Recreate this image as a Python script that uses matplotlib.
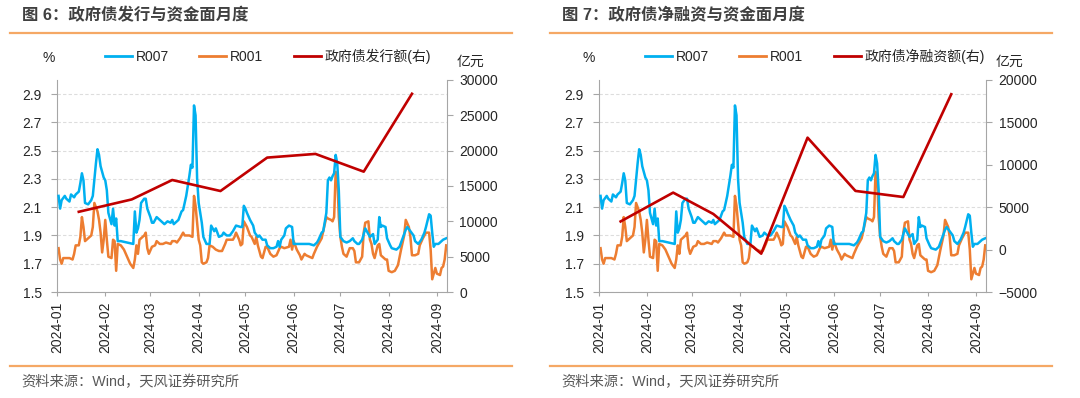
import matplotlib
matplotlib.use('Agg')
import matplotlib.pyplot as plt
import matplotlib.dates as mdates
from matplotlib.lines import Line2D
import pandas as pd
import numpy as np

plt.rcParams['font.family'] = ['Liberation Sans', 'Noto Sans CJK SC']
plt.rcParams['axes.unicode_minus'] = True

# ---------------- data ----------------
r007_dates = ["01-02","01-03","01-04","01-06","01-07","01-09","01-10","01-12","01-13","01-15",
              "01-16","01-17","01-18","01-19","01-21","01-23","01-24","01-26","01-27","01-28",
              "01-29","01-31","02-01","02-02","02-03","02-05","02-06","02-07","02-08","02-09",
              "02-11","02-15","02-19","02-20","02-21","02-22","02-23","02-24","02-26","02-27",
              "02-28","03-01","03-02","03-03","03-05","03-07","03-09","03-10","03-12","03-14",
              "03-15","03-16","03-18","03-19","03-21","03-22","03-24","03-25","03-26","03-27",
              "03-28","03-29","03-30","03-31","04-01","04-03","04-04","04-06","04-08","04-09",
              "04-10","04-11","04-12","04-14","04-16","04-17","04-19","04-21","04-23","04-25",
              "04-28","04-29","04-30","05-01","05-02","05-04","05-06","05-07","05-09","05-10",
              "05-12","05-14","05-15","05-17","05-19","05-21","05-22","05-23","05-24","05-26",
              "05-27","05-29","05-31","06-01","06-03","06-05","06-07","06-09","06-11","06-14",
              "06-16","06-17","06-19","06-20","06-22","06-23","06-24","06-25","06-26","06-27",
              "06-28","06-29","06-30","07-01","07-03","07-05","07-07","07-09","07-10","07-12",
              "07-13","07-15","07-17","07-18","07-20","07-22","07-23","07-25","07-26","07-27",
              "07-28","07-30","07-31","08-02","08-03","08-06","08-08","08-10","08-12","08-13",
              "08-15","08-17","08-18","08-20","08-22","08-24","08-25","08-27","08-28","08-29",
              "08-30","08-31","09-02","09-04","09-05","09-07"]
r007_values = [2.18,2.09,2.15,2.18,2.16,2.14,2.19,2.17,2.19,2.21,
               2.27,2.34,2.29,2.13,2.12,2.15,2.18,2.41,2.51,2.47,
               2.39,2.31,2.29,2.22,2.06,1.98,2.09,1.97,2.02,1.86,
               1.86,1.85,1.84,2.07,1.92,1.95,2.01,2.13,2.16,2.16,
               2.09,2.03,1.99,1.99,2.03,2.01,1.99,1.98,2.00,1.99,
               2.01,1.98,2.00,2.01,2.07,2.08,2.18,2.25,2.32,2.40,
               2.38,2.82,2.75,2.30,2.13,1.99,1.89,1.84,1.84,1.97,
               1.95,1.93,1.95,1.89,1.90,1.92,1.90,1.90,1.93,1.97,
               1.96,1.96,2.11,2.09,2.06,2.01,1.97,1.92,1.89,1.90,
               1.87,1.87,1.83,1.81,1.81,1.82,1.86,1.82,1.87,1.90,
               1.95,1.97,1.96,1.84,1.84,1.84,1.84,1.84,1.84,1.83,
               1.85,1.87,1.92,1.93,2.06,2.29,2.31,2.29,2.32,2.34,
               2.47,2.41,2.22,1.89,1.86,1.85,1.86,1.88,1.86,1.84,
               1.84,1.87,1.95,1.93,1.89,1.91,1.84,1.87,2.03,1.96,
               1.97,1.96,1.88,1.83,1.81,1.80,1.82,1.88,1.94,1.96,
               1.93,1.90,1.86,1.84,1.87,1.92,1.96,2.05,2.04,1.92,
               1.82,1.84,1.84,1.86,1.87,1.88]

r001_dates = ["01-02","01-03","01-04","01-05","01-06","01-09","01-11","01-12","01-13","01-15",
              "01-16","01-17","01-18","01-19","01-21","01-23","01-24","01-25","01-27","01-28",
              "01-29","01-30","01-31","02-01","02-02","02-03","02-05","02-06","02-07","02-08",
              "02-09","02-11","02-13","02-15","02-17","02-19","02-20","02-21","02-22","02-23",
              "02-25","02-26","02-27","02-28","02-29","03-02","03-04","03-05","03-07","03-09",
              "03-11","03-14","03-15","03-17","03-18","03-20","03-22","03-23","03-26","03-28",
              "03-29","03-30","03-31","04-01","04-02","04-03","04-04","04-06","04-07","04-08",
              "04-10","04-12","04-14","04-16","04-18","04-19","04-21","04-23","04-24","04-25",
              "04-27","04-28","04-29","04-30","05-02","05-04","05-05","05-07","05-08","05-09",
              "05-11","05-12","05-14","05-15","05-17","05-19","05-21","05-23","05-24","05-26",
              "05-29","05-30","05-31","06-01","06-03","06-05","06-06","06-08","06-09","06-11",
              "06-13","06-14","06-16","06-17","06-19","06-20","06-22","06-23","06-25","06-26",
              "06-27","06-28","06-29","06-30","07-01","07-02","07-03","07-05","07-07","07-09",
              "07-10","07-11","07-13","07-15","07-16","07-17","07-19","07-20","07-21","07-22",
              "07-23","07-25","07-26","07-27","07-28","07-30","07-31","08-01","08-03","08-05",
              "08-07","08-09","08-11","08-12","08-14","08-15","08-16","08-18","08-20","08-21",
              "08-23","08-25","08-27","08-28","08-29","08-30","08-31","09-01","09-03","09-04",
              "09-05","09-06","09-07"]
r001_values = [1.81,1.73,1.70,1.74,1.74,1.74,1.73,1.77,1.83,1.83,
               1.89,2.03,1.96,1.86,1.88,1.90,1.96,2.13,2.07,2.01,
               1.92,1.78,1.87,2.01,1.87,1.75,1.74,1.87,1.86,1.65,
               1.84,1.83,1.80,1.75,1.70,1.67,1.73,1.83,1.77,1.87,
               1.89,1.90,1.92,1.81,1.77,1.82,1.83,1.86,1.84,1.84,
               1.85,1.84,1.86,1.86,1.85,1.88,1.92,1.90,1.90,1.89,
               2.18,2.11,1.99,1.87,1.83,1.71,1.70,1.71,1.74,1.83,
               1.82,1.80,1.79,1.79,1.84,1.87,1.87,1.87,1.89,1.92,
               1.87,1.83,1.84,2.00,1.96,1.90,1.89,1.84,1.89,1.83,
               1.75,1.74,1.82,1.82,1.77,1.75,1.76,1.81,1.82,1.81,
               1.82,1.87,1.80,1.86,1.80,1.76,1.73,1.77,1.76,1.75,
               1.74,1.77,1.82,1.84,1.88,1.93,2.03,2.02,2.01,2.00,
               2.03,2.35,2.33,2.03,1.89,1.82,1.77,1.75,1.81,1.81,
               1.79,1.71,1.71,1.75,1.92,1.99,2.00,1.87,1.84,1.77,
               1.74,1.83,1.84,1.76,1.75,1.73,1.73,1.65,1.64,1.65,
               1.69,1.80,1.90,2.01,1.96,1.89,1.76,1.76,1.77,1.83,
               1.88,1.92,1.92,1.80,1.59,1.63,1.67,1.63,1.62,1.67,
               1.68,1.73,1.83]

gov_dates = ["01-15","02-18","03-15","04-15","05-15","06-15","07-16","08-16"]
gov_issue = [11350, 13100, 15850, 14290, 19020, 19540, 17030, 28050]
gov_net = [3320, 6720, 4200, -480, 13200, 6920, 6200, 18320]

titles = ["图 6：政府债发行与资金面月度", "图 7：政府债净融资与资金面月度"]
red_labels = ["政府债发行额(右)", "政府债净融资额(右)"]
source_text = "资料来源：Wind，天风证券研究所"

# ---------------- style ----------------
C007 = '#00B0F0'
C001 = '#ED7D31'
CRED = '#C00000'
CSEP = '#F5A865'
CAX = '#A6A6A6'
CTXT = '#262626'

W, H = 1080, 398
fig = plt.figure(figsize=(W / 100, H / 100), dpi=100)


def fx(px):
    return px / W


def fy(py):
    return 1 - py / H


def to_dt(lst):
    return pd.to_datetime(["2024-" + s for s in lst])


def panel(ox, ax_left, ax_right, title, red_vals, red_label, rlim, rticks):
    top, bot = 80, 292
    ax = fig.add_axes([fx(ax_left), fy(bot), fx(ax_right - ax_left), (bot - top) / H])
    axr = ax.twinx()

    ax.plot(to_dt(r007_dates), r007_values, color=C007, lw=1.8, zorder=3)
    ax.plot(to_dt(r001_dates), r001_values, color=C001, lw=1.8, zorder=2)
    axr.plot(to_dt(gov_dates), red_vals, color=CRED, lw=1.9, zorder=4)

    ax.set_ylim(1.5, 3.0)
    ax.set_yticks(np.arange(1.5, 2.95, 0.2))
    ax.yaxis.set_major_formatter(matplotlib.ticker.FormatStrFormatter('%.1f'))
    axr.set_ylim(*rlim)
    axr.set_yticks(rticks)

    ax.set_xlim(pd.Timestamp('2024-01-01'), pd.Timestamp('2024-09-07 12:00'))
    ax.xaxis.set_major_locator(mdates.MonthLocator())
    ax.xaxis.set_major_formatter(mdates.DateFormatter('%Y-%m'))

    ax.grid(axis='y', color='#DDDDDD', lw=0.8, ls=(0, (3, 2)))
    ax.set_axisbelow(True)

    for s in ['top', 'right']:
        ax.spines[s].set_visible(False)
    for s in ['top', 'left', 'bottom']:
        axr.spines[s].set_visible(False)
    ax.spines['left'].set_color(CAX)
    ax.spines['bottom'].set_color(CAX)
    axr.spines['right'].set_color(CAX)

    ax.tick_params(axis='y', direction='out', length=4, color=CAX, labelsize=10,
                   labelcolor=CTXT, pad=7)
    ax.tick_params(axis='x', direction='out', length=3, color=CAX, labelsize=10,
                   labelcolor=CTXT, pad=4, labelrotation=90)
    axr.tick_params(axis='y', direction='out', length=4, color=CAX, labelsize=10,
                    labelcolor=CTXT, pad=5)

    # header / footer
    fig.text(fx(ox + 22), fy(15), title, fontsize=11.8, fontweight='bold',
             color='#404040', va='center', ha='left')
    fig.add_artist(Line2D([fx(ox + 10), fx(ox + 512)], [fy(33), fy(33)], color=CSEP, lw=1.6))
    fig.add_artist(Line2D([fx(ox + 10), fx(ox + 512)], [fy(366), fy(366)], color=CSEP, lw=1.6))
    fig.text(fx(ox + 21), fy(382), source_text, fontsize=10.3, color='#595959',
             va='center', ha='left')

    # units
    fig.text(fx(ox + 49), fy(58), '%', fontsize=10, color=CTXT, va='center', ha='center')
    fig.text(fx(ax_right + 10), fy(62), '亿元', fontsize=10, color=CTXT, va='center', ha='left')

    handles = [Line2D([], [], color=C007, lw=2.0),
               Line2D([], [], color=C001, lw=2.0),
               Line2D([], [], color=CRED, lw=2.0)]
    fig.legend(handles, ['R007', 'R001', red_label], loc='center left',
               bbox_to_anchor=(fx(ox + 105), fy(56)), ncol=3, frameon=False,
               fontsize=10, handlelength=1.95, handletextpad=0.25,
               columnspacing=2.2, borderpad=0, borderaxespad=0, labelcolor=CTXT)
    return ax, axr


panel(0, 57, 447, titles[0], gov_issue, red_labels[0], (0, 30000),
      np.arange(0, 30001, 5000))
panel(540, 599, 986, titles[1], gov_net, red_labels[1], (-5000, 20000),
      np.arange(-5000, 20001, 5000))

fig.savefig('out.png', dpi=100)
